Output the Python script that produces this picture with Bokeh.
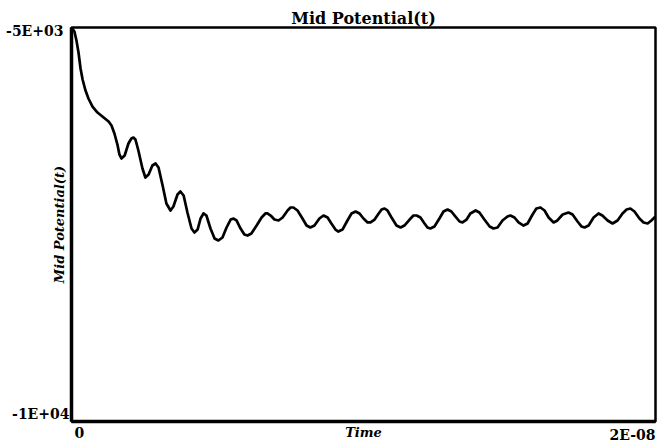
from bokeh.plotting import figure
from bokeh.models import Range1d, FixedTicker
from bokeh.core.properties import value
from bokeh.embed import file_html
from bokeh.resources import INLINE

# Mid-point potential versus time (time in ns, potential in V)
time_ns = [
    0.00, 0.10, 0.17, 0.24, 0.31, 0.38, 0.48, 0.58, 0.72, 0.89, 1.10, 1.27,
    1.37, 1.47, 1.58, 1.64, 1.71, 1.82, 1.95, 2.05, 2.12, 2.19, 2.29, 2.43,
    2.53, 2.64, 2.77, 2.88, 2.98, 3.12, 3.25, 3.39, 3.49, 3.63, 3.73, 3.84,
    3.97, 4.11, 4.21, 4.32, 4.42, 4.52, 4.62, 4.76, 4.90, 5.03, 5.17, 5.31,
    5.45, 5.55, 5.65, 5.79, 5.92, 6.03, 6.16, 6.34, 6.51, 6.64, 6.71, 6.82,
    6.95, 7.09, 7.23, 7.40, 7.50, 7.60, 7.74, 7.91, 8.05, 8.18, 8.32, 8.49,
    8.63, 8.77, 8.90, 9.04, 9.14, 9.28, 9.45, 9.59, 9.73, 9.86, 10.00, 10.14,
    10.24, 10.38, 10.52, 10.62, 10.72, 10.82, 10.96, 11.13, 11.27, 11.40, 11.58, 11.71,
    11.82, 11.95, 12.09, 12.19, 12.29, 12.43, 12.60, 12.74, 12.88, 13.01, 13.15, 13.29,
    13.39, 13.53, 13.66, 13.84, 13.97, 14.14, 14.32, 14.45, 14.59, 14.76, 14.93, 15.03,
    15.17, 15.31, 15.48, 15.62, 15.79, 15.92, 16.06, 16.20, 16.34, 16.51, 16.64, 16.82,
    17.02, 17.16, 17.33, 17.47, 17.57, 17.71, 17.88, 18.05, 18.18, 18.36, 18.53, 18.70,
    18.87, 19.01, 19.14, 19.28, 19.45, 19.59, 19.73, 19.86, 20.00,
]
potential_v = [
    -5000, -5051, -5165, -5317, -5520, -5660, -5800, -5901, -6003, -6079, -6142, -6193,
    -6244, -6345, -6497, -6611, -6662, -6624, -6472, -6409, -6396, -6421, -6561, -6789,
    -6904, -6865, -6751, -6726, -6777, -7005, -7233, -7322, -7271, -7119, -7081, -7132,
    -7348, -7551, -7601, -7563, -7424, -7360, -7386, -7551, -7678, -7703, -7665, -7538,
    -7437, -7424, -7449, -7551, -7627, -7640, -7614, -7513, -7411, -7360, -7360, -7386,
    -7437, -7449, -7411, -7322, -7284, -7284, -7322, -7424, -7513, -7538, -7513, -7424,
    -7386, -7411, -7487, -7564, -7589, -7564, -7449, -7360, -7335, -7360, -7424, -7474,
    -7474, -7437, -7360, -7310, -7297, -7322, -7411, -7513, -7538, -7513, -7437, -7386,
    -7386, -7411, -7487, -7538, -7551, -7526, -7424, -7335, -7310, -7335, -7399, -7462,
    -7474, -7437, -7360, -7322, -7348, -7437, -7526, -7551, -7538, -7449, -7399, -7386,
    -7411, -7474, -7513, -7487, -7373, -7297, -7284, -7322, -7411, -7474, -7449, -7373,
    -7348, -7373, -7462, -7526, -7538, -7513, -7411, -7360, -7386, -7449, -7487, -7449,
    -7360, -7310, -7297, -7335, -7424, -7474, -7487, -7449, -7398,
]

t_min, t_max = 0.0, 2e-8
v_min, v_max = -10000, -5000
x_tick_labels = ["0", "2E-08"]
y_tick_labels = ["-1E+04", "-5E+03"]

time_s = [t * 1e-9 for t in time_ns]

FONT = "DejaVu Serif"

p = figure(
    width=666, height=448,
    output_backend="svg", toolbar_location=None,
    x_range=Range1d(t_min, t_max), y_range=Range1d(v_min, v_max),
    min_border_left=71, min_border_right=11,
    min_border_top=27, min_border_bottom=27,
    title="Mid Potential(t)",
)
p.background_fill_color = "white"
p.border_fill_color = "white"
p.grid.visible = False

p.title.align = "center"
p.title.text_font = FONT
p.title.text_font_style = "bold"
p.title.text_font_size = "16px"
p.title.text_color = "black"
p.title.offset = 0
p.title.standoff = 0

p.outline_line_color = "black"
p.outline_line_width = 2.5
p.outline_line_alpha = 1.0

for ax in (p.xaxis[0], p.yaxis[0]):
    ax.ticker = FixedTicker(ticks=[])
    ax.major_tick_line_color = None
    ax.minor_tick_line_color = None
    ax.major_label_text_font_size = "0px"
    ax.axis_line_color = "black"
    ax.axis_line_width = 3.5
    ax.axis_label_text_font = FONT
    ax.axis_label_text_font_style = "bold italic"
    ax.axis_label_text_font_size = "13px"
    ax.axis_label_text_color = "black"

p.xaxis.axis_label = "Time"
p.xaxis.axis_label_standoff = 3
p.yaxis.axis_label = "Mid Potential(t)"
p.yaxis.axis_label_standoff = 5

p.line(time_s, potential_v, line_color="black", line_width=2.7, line_join="round")

# Range-end labels, drawn on the overlay level so they may sit beside the frame
label_style = dict(text_font=value(FONT), text_font_style="bold",
                   text_font_size="14px", text_color="black", level="overlay")

p.text(x=[t_min], y=[v_min], text=[x_tick_labels[0]], text_align="left",
       text_baseline="top", x_offset=3, y_offset=5, **label_style)
p.text(x=[t_max], y=[v_min], text=[x_tick_labels[1]], text_align="right",
       text_baseline="top", x_offset=0, y_offset=5, **label_style)
p.text(x=[t_min], y=[v_min], text=[y_tick_labels[0]], text_align="right",
       text_baseline="middle", x_offset=-2, y_offset=-8, **label_style)
p.text(x=[t_min], y=[v_max], text=[y_tick_labels[1]], text_align="right",
       text_baseline="middle", x_offset=-8, y_offset=3, **label_style)

open("out.html", "w").write(file_html(p, INLINE))
